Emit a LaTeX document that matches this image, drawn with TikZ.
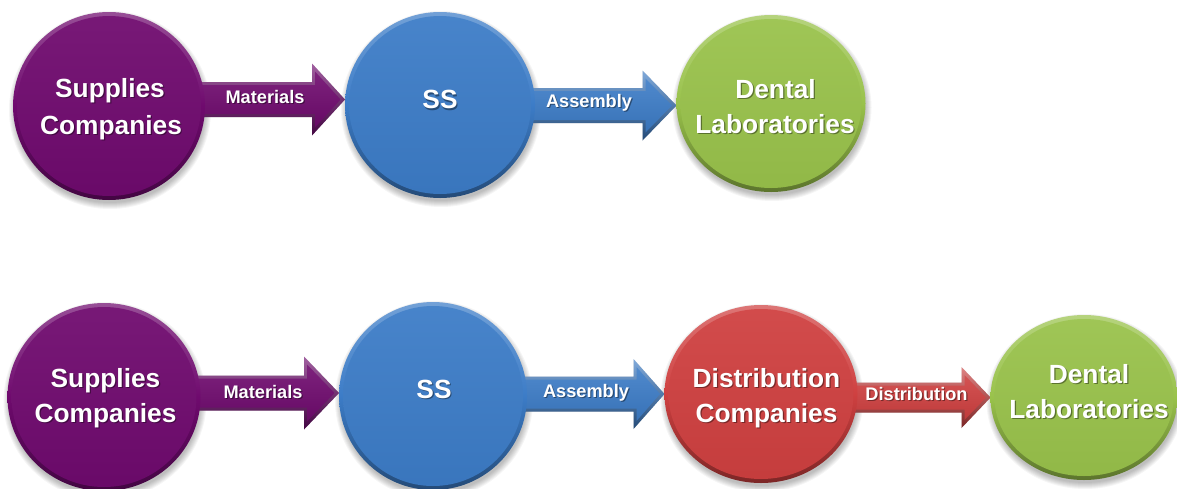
\documentclass[tikz,border=0pt]{standalone}
\usepackage{fontspec}
\setmainfont{Liberation Sans}
\usetikzlibrary{shapes.geometric,calc}
\pgfdeclarelayer{bg}
\pgfdeclarelayer{back}
\pgfsetlayers{bg,back,main}

\definecolor{cpurple}{HTML}{6F0A6E}
\definecolor{cblue}{HTML}{3C7CC7}
\definecolor{cgreen}{HTML}{99C24B}
\definecolor{cred}{HTML}{CF4040}

\tikzset{
  ball/.style={ellipse, inner sep=0pt, outer sep=0pt},
  bigtext/.style={text=white, font=\bfseries\fontsize{26.3}{30}\selectfont, anchor=base, inner sep=0pt},
  smalltext/.style={text=white, font=\bfseries\fontsize{18.2}{22}\selectfont, anchor=base, inner sep=0pt},
}

% white text with a soft dark shadow
\newcommand\shtext[4]{% name, baseline point, style, text
  \node[#3, text=black, opacity=.4] (#1-sh) at ($(#2)+(1.2,1.6)$) {#4};
  \node[#3] (#1) at (#2) {#4};
}

% bevelled ball with drop shadow
\newcommand\ball[5]{% name, centre, x radius, y radius, colour
  \begin{pgfonlayer}{back}
    \foreach \k in {1,...,7}
      \fill[black, opacity=.04] ($(#2)+(1,4)$) ellipse [x radius={(#3-2+\k)*1pt}, y radius={(#4-2+\k)*1pt}];
  \end{pgfonlayer}
  \node[ball, minimum width={2*#3*1pt}, minimum height={2*#4*1pt},
        top color=#5!72!white, bottom color=#5!60!black, middle color=#5] (#1) at (#2) {};
  \shade[top color=#5!94!white, bottom color=#5!95!black] (#1.center) ellipse [x radius={(#3-4)*1pt}, y radius={(#4-4)*1pt}];
}

% outline of a block arrow between the coordinates ba-s and ba-t
\newcommand\arrowouter[3]{% half shaft, half head, head length
  ($(ba-s)+(0,-#1)$) -- ($(ba-t)+(-#3,-#1)$) -- ($(ba-t)+(-#3,-#2)$) -- (ba-t)
  -- ($(ba-t)+(-#3,#2)$) -- ($(ba-t)+(-#3,#1)$) -- ($(ba-s)+(0,#1)$) -- cycle}
\newcommand\arrowinner[3]{%
  ($(ba-s)+(0,-#1+3)$) -- ($(ba-t)+(-#3+3,-#1+3)$) -- ($(ba-t)+(-#3+3,-#2+8)$) -- ($(ba-t)+(-4.5,0)$)
  -- ($(ba-t)+(-#3+3,#2-8)$) -- ($(ba-t)+(-#3+3,#1-3)$) -- ($(ba-s)+(0,#1-3)$) -- cycle}

\newcommand\blockarrow[9]{% from, to, centre line, half shaft, half head, head length, colour, label point, label
  \path let \p1=(#1.center), \p2=(#2.west) in
    (\x1,{-#3pt}) coordinate (ba-s) (\x2,{-#3pt}) coordinate (ba-t);
  \begin{pgfonlayer}{back}
    \fill[black, opacity=.15, shift={(1,3)}] \arrowouter{#4}{#5}{#6};
    \shade[top color=#7!65!white, bottom color=#7!60!black] \arrowouter{#4}{#5}{#6};
    \shade[top color=#7!90!white, bottom color=#7!92!black] \arrowinner{#4}{#5}{#6};
  \end{pgfonlayer}
  \shtext{#1-#2-lbl}{#8}{smalltext}{#9}
}

\begin{document}
\begin{tikzpicture}[x=1pt, y=-1pt]
  \begin{pgfonlayer}{bg}
    \fill[white] (0,0) rectangle (1177,488);
  \end{pgfonlayer}
  \useasboundingbox (0,0) rectangle (1177,488);

  % upper chain
  \ball{A1}{109,106}{96}{94}{cpurple}
  \ball{B1}{440,105}{95}{93}{cblue}
  \ball{C1}{771,103.5}{94.5}{88.5}{cgreen}

  % lower chain
  \ball{A2}{104,397}{96.5}{94}{cpurple}
  \ball{B2}{433,396}{94}{94}{cblue}
  \ball{D2}{761,394}{96.5}{89}{cred}
  \ball{C2}{1084,397.5}{93.5}{82.5}{cgreen}

  \blockarrow{A1}{B1}{99.5}{17.5}{36}{33}{cpurple}{265,103}{Materials}
  \blockarrow{B1}{C1}{105.5}{17.5}{35}{34}{cblue}{589,107}{Assembly}
  \blockarrow{A2}{B2}{393}{17.5}{36.5}{35}{cpurple}{263,398}{Materials}
  \blockarrow{B2}{D2}{394}{17.5}{35}{31}{cblue}{586,397}{Assembly}
  \blockarrow{D2}{C2}{397.5}{15}{30.5}{29}{cred}{916.5,400}{Distribution}

  % ball captions
  \shtext{A1t1}{110,97}{bigtext}{Supplies}
  \shtext{A1t2}{111,134}{bigtext}{Companies}
  \shtext{B1t}{440,108.5}{bigtext}{SS}
  \shtext{C1t1}{775.5,98}{bigtext}{Dental}
  \shtext{C1t2}{775,133}{bigtext}{Laboratories}

  \shtext{A2t1}{105.5,387}{bigtext}{Supplies}
  \shtext{A2t2}{105.5,422}{bigtext}{Companies}
  \shtext{B2t}{434,398}{bigtext}{SS}
  \shtext{D2t1}{766.5,387}{bigtext}{Distribution}
  \shtext{D2t2}{766.5,422}{bigtext}{Companies}
  \shtext{C2t1}{1089,383}{bigtext}{Dental}
  \shtext{C2t2}{1089,418}{bigtext}{Laboratories}
\end{tikzpicture}
\end{document}
